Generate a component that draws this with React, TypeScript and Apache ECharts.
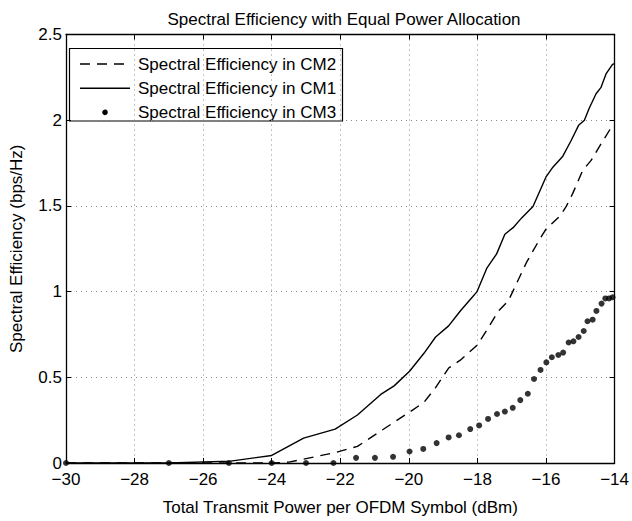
import React, { useEffect, useRef } from "react";
import * as echarts from "echarts";

const titleText = "Spectral Efficiency with Equal Power Allocation";
const xName = "Total Transmit Power per OFDM Symbol (dBm)";
const yName = "Spectral Efficiency (bps/Hz)";
const legendNames = ["Spectral Efficiency in CM2", "Spectral Efficiency in CM1", "Spectral Efficiency in CM3"];

const cm1X = [-30, -27, -25.2, -24, -23.07, -22.15, -21.5, -20.82, -20.43, -19.98, -19.56, -19.22, -18.84, -18.5, -18.21, -18.01, -17.73, -17.44, -17.2, -16.96, -16.71, -16.38, -16.0, -15.8, -15.51, -15.27, -15.05, -14.88, -14.74, -14.54, -14.4, -14.25, -14.06, -14.0];
const cm1Y = [0, 0, 0.011, 0.044, 0.145, 0.198, 0.28, 0.4, 0.45, 0.535, 0.64, 0.735, 0.8, 0.887, 0.954, 1.0, 1.135, 1.22, 1.335, 1.373, 1.43, 1.497, 1.669, 1.726, 1.79, 1.88, 1.97, 2.0, 2.07, 2.154, 2.19, 2.27, 2.326, 2.33];

const cm2X = [-30, -27, -24, -23.5, -22.16, -21.5, -20.72, -19.98, -19.56, -19.22, -18.84, -18.5, -18.01, -17.68, -17.39, -17.1, -16.57, -16.18, -16.0, -15.6, -15.41, -15.22, -14.93, -14.69, -14.4, -14.11, -14.0];
const cm2Y = [0, 0, 0, 0.005, 0.06, 0.097, 0.2, 0.297, 0.354, 0.44, 0.554, 0.6, 0.687, 0.79, 0.887, 0.945, 1.17, 1.307, 1.364, 1.44, 1.497, 1.573, 1.707, 1.764, 1.86, 1.954, 1.97];

const cm3X = [-30, -27, -25.25, -24, -23.0, -22.2, -21.54, -20.99, -20.46, -19.98, -19.58, -19.19, -18.84, -18.54, -18.21, -17.95, -17.69, -17.43, -17.2, -16.97, -16.75, -16.53, -16.35, -16.16, -15.99, -15.83, -15.64, -15.5, -15.34, -15.2, -15.05, -14.9, -14.79, -14.64, -14.53, -14.38, -14.27, -14.16, -14.06];
const cm3Y = [0, 0, 0, 0, 0, 0, 0.03, 0.03, 0.036, 0.067, 0.082, 0.116, 0.149, 0.162, 0.198, 0.219, 0.257, 0.286, 0.3, 0.322, 0.367, 0.404, 0.49, 0.543, 0.587, 0.617, 0.63, 0.644, 0.703, 0.71, 0.735, 0.77, 0.827, 0.836, 0.887, 0.93, 0.96, 0.96, 0.967];

const FONT = "'Liberation Sans', Arial, Helvetica, sans-serif";
const FS = 17;

const zip = (xs: number[], ys: number[]) => xs.map((x, i) => [x, ys[i]]);

export default function App() {
  const ref = useRef<HTMLDivElement>(null);
  useEffect(() => {
    document.body.style.margin = "0";
    if (!ref.current) return;
    const chart = echarts.init(ref.current, null, { renderer: "svg" });
    const gridLine = { show: true, lineStyle: { color: "#888", width: 1, type: [1, 4] as any } };
    const tickIn = { show: true, inside: true, length: 5, lineStyle: { color: "#000", width: 1 } };
    const axisLine = { show: true, onZero: false, lineStyle: { color: "#000", width: 1.3 } };
    const legendRows = [64, 88.3, 112.3];
    chart.setOption({
      animation: false,
      backgroundColor: "#fff",
      title: {
        text: titleText,
        left: 339,
        textAlign: "center",
        top: 6,
        textStyle: { fontFamily: FONT, fontSize: FS, fontWeight: "normal", color: "#000" },
      },
      grid: { left: 62, right: 14.5, top: 34.5, bottom: 48, containLabel: false },
      xAxis: [
        {
          type: "value",
          min: -30,
          max: -14,
          interval: 2,
          name: xName,
          nameLocation: "middle",
          nameGap: 36,
          nameTextStyle: { fontFamily: FONT, fontSize: FS, color: "#000" },
          axisLine,
          axisTick: tickIn,
          axisLabel: {
            color: "#000",
            fontFamily: FONT,
            fontSize: FS,
            lineHeight: 14,
            margin: 9,
            formatter: (v: number) => String(v).replace("-", "\u2212"),
          },
          splitLine: gridLine,
        },
        {
          type: "value",
          position: "top",
          min: -30,
          max: -14,
          interval: 2,
          axisLine,
          axisTick: tickIn,
          axisLabel: { show: false },
          splitLine: { show: false },
        },
      ],
      yAxis: [
        {
          type: "value",
          min: 0,
          max: 2.5,
          interval: 0.5,
          name: yName,
          nameLocation: "middle",
          nameGap: 41,
          nameTextStyle: { fontFamily: FONT, fontSize: FS, color: "#000" },
          axisLine,
          axisTick: tickIn,
          axisLabel: { color: "#000", fontFamily: FONT, fontSize: FS, lineHeight: 14, margin: 4 },
          splitLine: gridLine,
        },
        {
          type: "value",
          position: "right",
          min: 0,
          max: 2.5,
          interval: 0.5,
          axisLine,
          axisTick: tickIn,
          axisLabel: { show: false },
          splitLine: { show: false },
        },
      ],
      series: [
        {
          name: legendNames[0],
          type: "line",
          data: zip(cm2X, cm2Y),
          showSymbol: false,
          symbol: "none",
          lineStyle: { color: "#000", width: 1.4, type: [10, 7] as any },
          z: 3,
        },
        {
          name: legendNames[1],
          type: "line",
          data: zip(cm1X, cm1Y),
          showSymbol: false,
          symbol: "none",
          lineStyle: { color: "#000", width: 1.4 },
          z: 3,
        },
        {
          name: legendNames[2],
          type: "scatter",
          data: zip(cm3X, cm3Y),
          symbol: "circle",
          symbolSize: 6,
          itemStyle: { color: "#000" },
          clip: false,
          z: 4,
        },
      ],
      graphic: [
        {
          type: "group",
          z: 100,
          children: [
            {
              type: "rect",
              shape: { x: 69.5, y: 48.5, width: 273, height: 72.5 },
              style: { fill: "#fff", stroke: "#000", lineWidth: 1.2 },
            },
            {
              type: "line",
              shape: { x1: 80, y1: legendRows[0], x2: 130, y2: legendRows[0] },
              style: { stroke: "#000", lineWidth: 1.4, lineDash: [10, 7] },
            },
            {
              type: "line",
              shape: { x1: 80, y1: legendRows[1], x2: 130, y2: legendRows[1] },
              style: { stroke: "#000", lineWidth: 1.4 },
            },
            {
              type: "circle",
              shape: { cx: 105, cy: legendRows[2], r: 2.8 },
              style: { fill: "#000" },
            },
            ...legendNames.map((t, i) => ({
              type: "text",
              x: 138,
              y: legendRows[i],
              style: {
                text: t,
                fill: "#000",
                font: `${FS}px ${FONT}`,
                textVerticalAlign: "middle",
                textAlign: "left",
              },
            })),
          ],
        },
      ],
    });
    return () => chart.dispose();
  }, []);
  return <div ref={ref} style={{ width: 632, height: 521 }} />;
}
